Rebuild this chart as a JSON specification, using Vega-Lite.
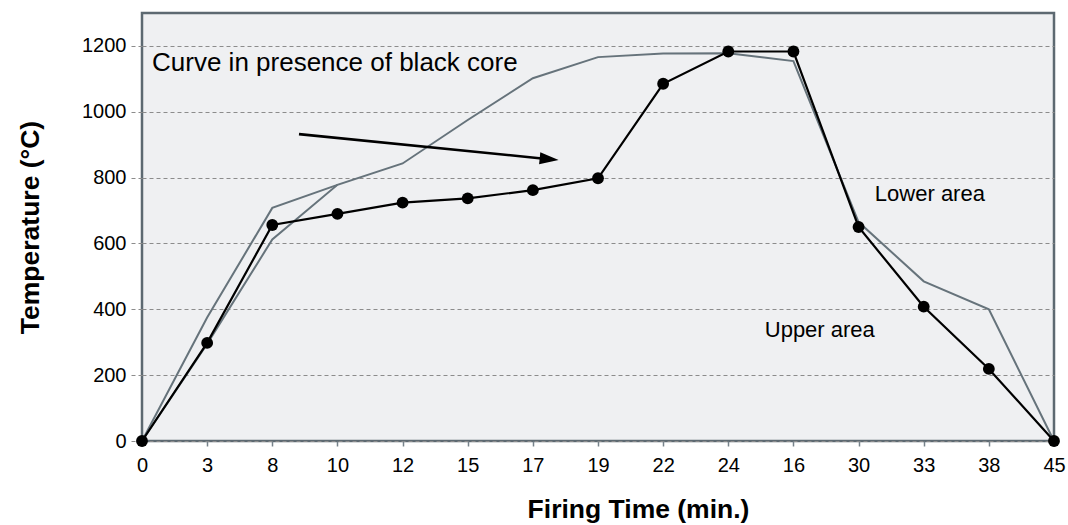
{
  "$schema": "https://vega.github.io/schema/vega-lite/v6.json",
  "width": 912,
  "height": 428,
  "autosize": {"type": "none"},
  "padding": {"left": 142, "top": 13, "right": 14, "bottom": 84},
  "background": "white",
  "config": {
    "view": {"fill": "#eff0f2", "stroke": "#5d6971", "strokeWidth": 2.5},
    "font": "Liberation Sans"
  },
  "datasets": {
    "lines": [
      {"series": "black", "time": "0", "temp": 0},
      {"series": "black", "time": "3", "temp": 298},
      {"series": "black", "time": "8", "temp": 656},
      {"series": "black", "time": "10", "temp": 690},
      {"series": "black", "time": "12", "temp": 724},
      {"series": "black", "time": "15", "temp": 737},
      {"series": "black", "time": "17", "temp": 762},
      {"series": "black", "time": "19", "temp": 798},
      {"series": "black", "time": "22", "temp": 1085},
      {"series": "black", "time": "24", "temp": 1183},
      {"series": "black", "time": "16", "temp": 1183},
      {"series": "black", "time": "30", "temp": 650},
      {"series": "black", "time": "33", "temp": 408},
      {"series": "black", "time": "38", "temp": 219},
      {"series": "black", "time": "45", "temp": 0},
      {"series": "grayA", "time": "0", "temp": 0},
      {"series": "grayA", "time": "3", "temp": 375},
      {"series": "grayA", "time": "8", "temp": 708},
      {"series": "grayA", "time": "10", "temp": 778},
      {"series": "grayB", "time": "0", "temp": 0},
      {"series": "grayB", "time": "3", "temp": 295},
      {"series": "grayB", "time": "8", "temp": 612},
      {"series": "grayB", "time": "10", "temp": 778},
      {"series": "grayB", "time": "12", "temp": 843},
      {"series": "grayB", "time": "15", "temp": 975},
      {"series": "grayB", "time": "17", "temp": 1102},
      {"series": "grayB", "time": "19", "temp": 1166},
      {"series": "grayB", "time": "22", "temp": 1177},
      {"series": "grayB", "time": "24", "temp": 1178},
      {"series": "grayB", "time": "16", "temp": 1154},
      {"series": "grayB", "time": "30", "temp": 665},
      {"series": "grayB", "time": "33", "temp": 485},
      {"series": "grayB", "time": "38", "temp": 400},
      {"series": "grayB", "time": "45", "temp": 0}
    ],
    "notes": [
      {"label": "Curve in presence of black core", "pos": 0.154, "temp": 1124, "kind": "big"},
      {"label": "Lower area", "pos": 11.25, "temp": 729, "kind": "small"},
      {"label": "Upper area", "pos": 9.56, "temp": 316, "kind": "small"}
    ],
    "arrow": [
      {"pos": 2.41, "temp": 932, "pos2": 6.25, "temp2": 856}
    ]
  },
  "layer": [
    {
      "data": {"name": "lines"},
      "transform": [{"filter": "datum.series !== 'black'"}],
      "mark": {"type": "line", "color": "#66737b", "strokeWidth": 2},
      "encoding": {
        "x": {
          "field": "time", "type": "ordinal",
          "scale": {"type": "point", "padding": 0, "domain": ["0","3","8","10","12","15","17","19","22","24","16","30","33","38","45"]},
          "axis": {
            "title": "Firing Time (min.)", "labelAngle": 0, "domain": false, "grid": false,
            "tickSize": 5, "tickColor": "#76828a", "tickWidth": 1.5,
            "labelPadding": 9, "labelFontSize": 20, "labelColor": "#000000", "labelFont": "Liberation Sans",
            "titleFont": "Liberation Sans", "titleFontSize": 26.5, "titleFontWeight": "bold", "titleColor": "#000000",
            "titleX": 496, "titleY": 76, "titleBaseline": "alphabetic", "titleAlign": "center"
          }
        },
        "y": {
          "field": "temp", "type": "quantitative",
          "scale": {"domain": [0, 1300], "nice": false, "zero": true},
          "axis": {
            "values": [0, 200, 400, 600, 800, 1000, 1200], "format": "d",
            "grid": true, "gridDash": [4, 3], "gridColor": "#8c8c8c", "gridWidth": 1,
            "domain": false, "tickSize": 14, "tickDash": [4, 3], "tickColor": "#8c8c8c", "tickWidth": 1,
            "labelPadding": 2, "labelFontSize": 20, "labelColor": "#000000", "labelFont": "Liberation Sans",
            "title": "Temperature (°C)", "titleFont": "Liberation Sans", "titleFontSize": 26.5, "titleFontWeight": "bold", "titleColor": "#000000",
            "titleX": -98, "titleY": 214, "titleAngle": 270, "titleBaseline": "bottom", "titleAlign": "center"
          }
        },
        "detail": {"field": "series"}
      }
    },
    {
      "data": {"name": "lines"},
      "transform": [{"filter": "datum.series === 'black'"}],
      "mark": {"type": "line", "color": "#000000", "strokeWidth": 2.2},
      "encoding": {
        "x": {"field": "time", "type": "ordinal", "scale": {"type": "point", "padding": 0, "domain": ["0","3","8","10","12","15","17","19","22","24","16","30","33","38","45"]}, "axis": null},
        "y": {"field": "temp", "type": "quantitative"}
      }
    },
    {
      "data": {"name": "lines"},
      "transform": [{"filter": "datum.series === 'black'"}],
      "mark": {"type": "point", "filled": true, "color": "#000000", "size": 140, "opacity": 1},
      "encoding": {
        "x": {"field": "time", "type": "ordinal", "scale": {"type": "point", "padding": 0, "domain": ["0","3","8","10","12","15","17","19","22","24","16","30","33","38","45"]}, "axis": null},
        "y": {"field": "temp", "type": "quantitative"}
      }
    },
    {
      "data": {"name": "arrow"},
      "mark": {"type": "rule", "color": "#000000", "strokeWidth": 2.6},
      "encoding": {
        "x": {"field": "pos", "type": "quantitative", "scale": {"domain": [0, 14], "nice": false, "zero": false}, "axis": null},
        "y": {"field": "temp", "type": "quantitative"},
        "x2": {"field": "pos2"},
        "y2": {"field": "temp2"}
      }
    },
    {
      "data": {"name": "arrow"},
      "mark": {"type": "point", "filled": true, "color": "#000000", "opacity": 1, "size": 361, "shape": "M-1,-0.63L1,0L-1,0.63Z", "angle": 5.7},
      "encoding": {
        "x": {"field": "pos2", "type": "quantitative", "scale": {"domain": [0, 14], "nice": false, "zero": false}, "axis": null},
        "y": {"field": "temp2", "type": "quantitative"}
      }
    },
    {
      "data": {"name": "notes"},
      "mark": {"type": "text", "align": "left", "baseline": "alphabetic", "color": "#000000", "font": "Liberation Sans"},
      "encoding": {
        "x": {"field": "pos", "type": "quantitative", "scale": {"domain": [0, 14], "nice": false, "zero": false}, "axis": null},
        "y": {"field": "temp", "type": "quantitative"},
        "text": {"field": "label"},
        "size": {"field": "kind", "type": "nominal", "scale": {"domain": ["big", "small"], "range": [26, 22]}, "legend": null}
      }
    }
  ],
  "resolve": {"scale": {"x": "independent"}}
}
